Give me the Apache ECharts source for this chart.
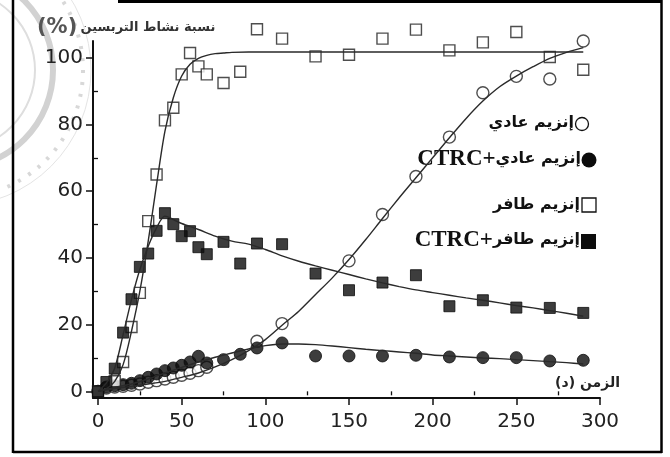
<!DOCTYPE html>
<html><head><meta charset="utf-8">
<script src="https://cdn.jsdelivr.net/npm/echarts@6/dist/echarts.min.js"></script>
<style>html,body{margin:0;padding:0;background:#fff}#c{width:670px;height:457px}</style>
</head><body><div id="c"></div>
<script>
// ---- data ----
const xTickLabels = [0, 50, 100, 150, 200, 250, 300];
const xMinorTicks = [25, 75, 125, 175, 225, 275];
const yTickLabels = [0, 20, 40, 60, 80, 100];
const yMinorTicks = [10, 30, 50, 70, 90];

// normal enzyme (open circles)
const normalX = [0,5,10,15,20,25,30,35,40,45,50,55,60,65,95,110,150,170,190,210,230,250,270,290];
const normalY = [0,1,1.3,1.5,1.8,2.2,2.7,3.2,3.7,4.2,4.8,5.4,6.2,7.2,15,20.3,39.1,53,64.4,76.2,89.5,94.4,93.6,105];
// normal enzyme + CTRC (filled circles)
const normalCtrcX = [0,5,10,15,20,25,30,35,40,45,50,55,60,65,75,85,95,110,130,150,170,190,210,230,250,270,290];
const normalCtrcY = [0,1.3,1.7,2,2.4,3.2,4.2,5.2,6.2,7,7.8,8.8,10.5,8.5,9.5,11.1,13,14.5,10.6,10.6,10.6,10.8,10.3,10.1,10.1,9.1,9.3];
// mutant enzyme (open squares)
const mutantX = [0,10,15,20,25,30,35,40,45,50,55,60,65,75,85,95,110,130,150,170,190,210,230,250,270,290];
const mutantY = [0,3,8.8,19.3,29.5,51,65,81.2,85,95,101.4,97.4,95,92.4,95.8,108.5,105.7,100.4,100.9,105.7,108.4,102.2,104.6,107.7,100.2,96.4];
// mutant enzyme + CTRC (filled squares)
const mutantCtrcX = [0,5,10,15,20,25,30,35,40,45,50,55,60,65,75,85,95,110,130,150,170,190,210,230,250,270,290];
const mutantCtrcY = [0,2.8,6.8,17.6,27.6,37.3,41.3,48.1,53.4,50.1,46.5,48,43.2,41.1,44.8,38.3,44.3,44.1,35.3,30.3,32.6,34.8,25.5,27.3,25.1,25,23.5];

// fitted curves
const fitNormalX = [0,10,20,30,40,50,60,70,80,90,100,110,120,130,140,150,160,170,180,190,200,210,220,230,240,250,260,270,280,290];
const fitNormalY = [0,0.8,1.5,2.2,3,4.2,5.5,7.3,9.5,12.2,15.5,19.8,24,29,34,39.5,45.5,51.8,58,64,70,76,81.8,87,91.3,94.5,97.3,99.8,101.6,103];
const fitNormalCtrcX = [0,10,20,30,40,50,60,70,80,90,100,110,120,130,140,150,160,170,180,190,200,210,220,230,240,250,260,270,280,290];
const fitNormalCtrcY = [0,1.2,2.2,3.7,5.5,7.2,8.8,10.2,11.5,12.7,13.7,14.2,14.2,14,13.6,13.1,12.6,12.2,11.8,11.4,10.9,10.6,10.3,10,9.8,9.5,9.2,8.9,8.6,8.2];
const fitMutantX = [0,5,10,15,20,25,30,35,40,45,50,55,60,65,70,75,80,90,100,150,200,250,290];
const fitMutantY = [0,0.8,3,8,18,30,45,62,78,88,94.5,98,99.8,100.7,101.2,101.4,101.6,101.7,101.7,101.7,101.7,101.7,101.7];
const fitMutantCtrcX = [0,5,10,15,20,25,30,35,40,45,50,60,70,80,90,100,110,120,130,140,150,160,170,180,190,200,210,220,230,240,250,260,270,280,290];
const fitMutantCtrcY = [0,2.5,7,17,27.5,36.5,43.5,49,52.5,51.5,50.3,48.5,46.5,45,44.1,42.5,40.6,39,37.6,36.3,35,33.7,32.5,31.4,30.4,29.6,28.8,28,27.3,26.5,25.7,25,24.2,23.4,22.5];

const legendNormal = 'إنزيم عادي';
const legendMutant = 'إنزيم طافر';
const ctrcTag = 'CTRC+';
const yTitle = 'نسبة نشاط التربسين';
const xTitle = 'الزمن (د)';

// ---- chart ----
const zip = (xs, ys) => xs.map((x, i) => [x, ys[i]]);
const INK = '#111';
const arabicFont = "'DejaVu Sans', sans-serif";
const chart = echarts.init(document.getElementById('c'), null, {renderer: 'canvas'});

function scatter(name, xs, ys, symbol, size, filled) {
  return {
    name, type: 'scatter', data: zip(xs, ys), symbol, symbolSize: size, clip: false, z: 3,
    itemStyle: filled ? {color: '#0c0c0c', borderColor: '#0c0c0c', borderWidth: 1}
                      : {color: '#fff', borderColor: '#222', borderWidth: 1.4},
    emphasis: {disabled: true}
  };
}
function fit(xs, ys) {
  return {
    type: 'line', data: zip(xs, ys), showSymbol: false, symbol: 'none', smooth: 0.3,
    clip: false, z: 4,
    lineStyle: {color: '#2a2a2a', width: 1.4}, emphasis: {disabled: true}
  };
}

const option = {
  animation: false,
  backgroundColor: '#fff',
  grid: {left: 93, right: 70, top: 41, bottom: 59},
  xAxis: [{
    type: 'value', min: -3, max: 300,
    axisLine: {onZero: false, lineStyle: {color: INK, width: 2}},
    axisTick: {show: true, length: 7, lineStyle: {color: INK, width: 1.5}, customValues: xTickLabels},
    axisLabel: {customValues: xTickLabels, fontSize: 20, fontFamily: 'DejaVu Sans', color: '#222', margin: 14},
    splitLine: {show: false}
  }, {
    type: 'value', min: -3, max: 300, position: 'bottom',
    axisLine: {show: false},
    axisTick: {show: true, length: 4, lineStyle: {color: INK, width: 1.3}, customValues: xMinorTicks},
    axisLabel: {show: false}, splitLine: {show: false}
  }],
  yAxis: [{
    type: 'value', min: -2, max: 105,
    axisLine: {onZero: false, lineStyle: {color: INK, width: 2}},
    axisTick: {show: true, length: 7, lineStyle: {color: INK, width: 1.5}, customValues: yTickLabels},
    axisLabel: {customValues: yTickLabels, fontSize: 20, fontFamily: 'DejaVu Sans', color: '#222', margin: 10},
    splitLine: {show: false}
  }, {
    type: 'value', min: -2, max: 105, position: 'left',
    axisLine: {show: false},
    axisTick: {show: true, length: 4, lineStyle: {color: INK, width: 1.3}, customValues: yMinorTicks},
    axisLabel: {show: false}, splitLine: {show: false}
  }],
  series: [
    fit(fitNormalX, fitNormalY),
    fit(fitNormalCtrcX, fitNormalCtrcY),
    fit(fitMutantX, fitMutantY),
    fit(fitMutantCtrcX, fitMutantCtrcY),
    scatter('normal', normalX, normalY, 'circle', 12, false),
    scatter('normalCtrc', normalCtrcX, normalCtrcY, 'circle', 12, true),
    scatter('mutant', mutantX, mutantY, 'rect', 11, false),
    scatter('mutantCtrc', mutantCtrcX, mutantCtrcY, 'rect', 11, true)
  ],
  graphic: [
    // faint stamp in the top-left corner
    {type: 'circle', silent: true, z: -10, shape: {cx: -45, cy: 70, r: 98},
     style: {fill: 'none', stroke: '#d2d2d2', lineWidth: 6}},
    {type: 'circle', silent: true, z: -10, shape: {cx: -45, cy: 70, r: 80},
     style: {fill: 'none', stroke: '#dedede', lineWidth: 2}},
    {type: 'circle', silent: true, z: -10, shape: {cx: -45, cy: 70, r: 128},
     style: {fill: 'none', stroke: '#d8d8d8', lineWidth: 4, lineDash: [3, 9]}},
    {type: 'circle', silent: true, z: -10, shape: {cx: -45, cy: 70, r: 136},
     style: {fill: 'none', stroke: '#e4e4e4', lineWidth: 1}},
    // frame
    {type: 'line', silent: true, shape: {x1: 13, y1: 0, x2: 13, y2: 453}, style: {stroke: '#000', lineWidth: 2.5}},
    {type: 'line', silent: true, shape: {x1: 118, y1: 1.5, x2: 662, y2: 1.5}, style: {stroke: '#000', lineWidth: 3}},
    {type: 'line', silent: true, shape: {x1: 661.5, y1: 0, x2: 661.5, y2: 453}, style: {stroke: '#000', lineWidth: 2.5}},
    {type: 'line', silent: true, shape: {x1: 13, y1: 452, x2: 662, y2: 452}, style: {stroke: '#000', lineWidth: 2.5}},
    // axis titles
    {type: 'text', silent: true, x: 37, y: 28, style: {
      text: '{p|(%)} {a|' + yTitle + '}', verticalAlign: 'middle', align: 'left',
      rich: {p: {fontSize: 21, fontFamily: 'DejaVu Sans', fill: '#555', fontWeight: 'bold'},
             a: {fontSize: 13, fontFamily: arabicFont, fill: '#333', fontWeight: 'bold'}}}},
    {type: 'text', silent: true, x: 620, y: 383, style: {
      text: xTitle, align: 'right', verticalAlign: 'middle',
      font: "bold 14px 'DejaVu Sans', sans-serif", fill: '#222'}},
    // legend
    {type: 'circle', silent: true, shape: {cx: 582, cy: 124, r: 6.5}, style: {fill: '#fff', stroke: '#111', lineWidth: 1.3}},
    {type: 'text', silent: true, x: 574, y: 123, style: {text: legendNormal, align: 'right', verticalAlign: 'middle',
      font: "bold 16px " + arabicFont, fill: '#111'}},
    {type: 'circle', silent: true, shape: {cx: 589, cy: 160, r: 7.5}, style: {fill: '#0c0c0c'}},
    {type: 'text', silent: true, x: 581, y: 159, style: {
      text: '{c|' + ctrcTag + '}{a|' + legendNormal + '}', align: 'right', verticalAlign: 'middle',
      rich: {c: {fontSize: 23, fontFamily: "'Liberation Serif', serif", fontWeight: 'bold', fill: '#111'},
             a: {fontSize: 16, fontFamily: arabicFont, fontWeight: 'bold', fill: '#111'}}}},
    {type: 'rect', silent: true, shape: {x: 582, y: 198, width: 14, height: 14}, style: {fill: '#fff', stroke: '#111', lineWidth: 1.3}},
    {type: 'text', silent: true, x: 580, y: 205, style: {text: legendMutant, align: 'right', verticalAlign: 'middle',
      font: "bold 16px " + arabicFont, fill: '#111'}},
    {type: 'rect', silent: true, shape: {x: 581, y: 234, width: 15, height: 15}, style: {fill: '#0c0c0c'}},
    {type: 'text', silent: true, x: 580, y: 240, style: {
      text: '{c|' + ctrcTag + '}{a|' + legendMutant + '}', align: 'right', verticalAlign: 'middle',
      rich: {c: {fontSize: 23, fontFamily: "'Liberation Serif', serif", fontWeight: 'bold', fill: '#111'},
             a: {fontSize: 16, fontFamily: arabicFont, fontWeight: 'bold', fill: '#111'}}}}
  ]
};
chart.setOption(option);
</script>
</body></html>
